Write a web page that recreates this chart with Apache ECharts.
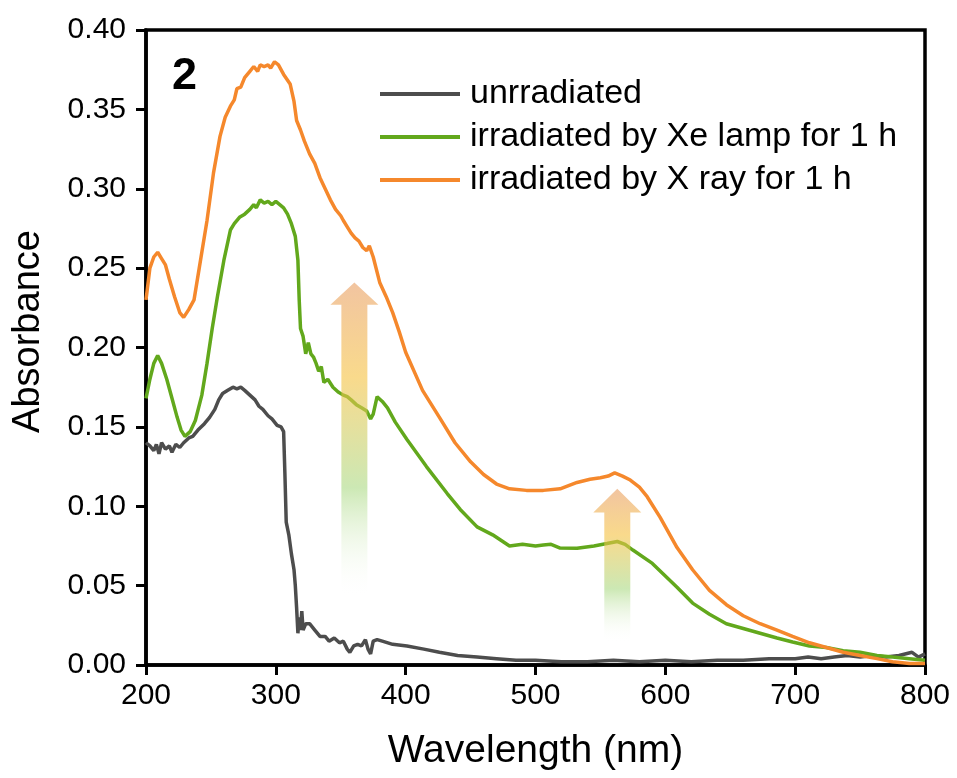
<!DOCTYPE html>
<html>
<head>
<meta charset="utf-8">
<script src="https://cdn.jsdelivr.net/npm/echarts@6/dist/echarts.min.js"></script>
<style>
html, body { margin: 0; padding: 0; background: #fff; }
#main { width: 957px; height: 778px; }
</style>
</head>
<body>
<div id="main"></div>
<script>
// spectra (wavelength in nm, absorbance)
var grayNm = [200, 203, 206, 208, 210, 212, 215, 218, 220, 223, 226, 229, 233, 236, 240, 245, 249, 253, 256, 259, 263, 267, 270, 273, 276, 280, 284, 287, 290, 294, 297, 301, 304, 306, 307, 308, 310, 312, 314, 315, 316, 317, 318, 319, 320, 321, 323, 326, 330, 334, 338, 341, 345, 349, 352, 355, 357, 360, 363, 366, 369, 371, 373, 375, 378, 382, 390, 401, 414, 426, 440, 455, 470, 485, 500, 520, 540, 560, 580, 600, 620, 640, 660, 680, 700, 710, 720, 730, 740, 750, 760, 770, 780, 790, 795, 800];
var grayAbs = [0.140, 0.138, 0.135, 0.139, 0.133, 0.140, 0.136, 0.138, 0.134, 0.139, 0.137, 0.140, 0.143, 0.144, 0.148, 0.152, 0.156, 0.161, 0.167, 0.171, 0.173, 0.175, 0.174, 0.175, 0.173, 0.170, 0.167, 0.163, 0.161, 0.157, 0.155, 0.151, 0.150, 0.147, 0.120, 0.090, 0.082, 0.070, 0.060, 0.050, 0.036, 0.020, 0.030, 0.022, 0.034, 0.022, 0.026, 0.026, 0.022, 0.018, 0.018, 0.015, 0.017, 0.014, 0.015, 0.010, 0.008, 0.012, 0.013, 0.012, 0.016, 0.010, 0.007, 0.015, 0.016, 0.015, 0.013, 0.012, 0.010, 0.008, 0.006, 0.005, 0.004, 0.003, 0.003, 0.002, 0.002, 0.003, 0.002, 0.003, 0.002, 0.003, 0.003, 0.004, 0.004, 0.005, 0.004, 0.005, 0.006, 0.005, 0.006, 0.005, 0.006, 0.008, 0.005, 0.007];

var xeNm = [200, 203, 206, 209, 212, 216, 220, 224, 227, 230, 234, 238, 243, 247, 251, 255, 260, 265, 268, 272, 276, 280, 283, 285, 288, 291, 294, 297, 300, 303, 306, 309, 312, 315, 317, 318, 319, 321, 323, 325, 327, 329, 331, 333, 335, 337, 340, 344, 348, 352, 355, 358, 362, 366, 370, 373, 375, 378, 382, 386, 392, 401, 416, 432, 442, 455, 467, 480, 490, 500, 506, 512, 519, 532, 545, 555, 563, 569, 575, 590, 609, 621, 634, 647, 660, 673, 686, 698, 711, 724, 737, 750, 763, 775, 788, 800];
var xeAbs = [0.168, 0.180, 0.190, 0.195, 0.190, 0.180, 0.168, 0.156, 0.148, 0.144, 0.147, 0.154, 0.170, 0.190, 0.212, 0.232, 0.255, 0.274, 0.278, 0.282, 0.284, 0.287, 0.290, 0.288, 0.293, 0.291, 0.292, 0.290, 0.292, 0.290, 0.288, 0.284, 0.278, 0.270, 0.255, 0.230, 0.212, 0.207, 0.196, 0.203, 0.196, 0.194, 0.190, 0.185, 0.188, 0.178, 0.180, 0.175, 0.172, 0.170, 0.169, 0.167, 0.164, 0.162, 0.160, 0.155, 0.158, 0.169, 0.166, 0.162, 0.153, 0.142, 0.125, 0.108, 0.098, 0.087, 0.082, 0.075, 0.076, 0.075, 0.0756, 0.076, 0.0737, 0.0735, 0.075, 0.0765, 0.0778, 0.076, 0.0724, 0.064, 0.049, 0.039, 0.032, 0.026, 0.023, 0.020, 0.017, 0.0145, 0.012, 0.011, 0.009, 0.008, 0.006, 0.005, 0.004, 0.003];

var xrayNm = [200, 203, 206, 209, 212, 215, 218, 222, 226, 229, 233, 237, 241, 247, 252, 257, 261, 265, 268, 270, 273, 276, 280, 283, 286, 288, 291, 294, 296, 299, 302, 306, 311, 314, 316, 319, 322, 326, 330, 334, 338, 342, 346, 350, 352, 355, 358, 361, 364, 367, 370, 372, 375, 380, 385, 390, 395, 400, 413, 426, 438, 450, 460, 470, 480, 493, 506, 519, 532, 542, 550, 556, 561, 567, 573, 580, 586, 596, 609, 621, 634, 647, 660, 673, 686, 698, 711, 724, 737, 750, 763, 775, 788, 800];
var xrayAbs = [0.230, 0.250, 0.257, 0.260, 0.256, 0.252, 0.243, 0.232, 0.222, 0.219, 0.224, 0.230, 0.250, 0.280, 0.310, 0.333, 0.345, 0.352, 0.356, 0.363, 0.364, 0.370, 0.374, 0.377, 0.374, 0.378, 0.377, 0.378, 0.376, 0.380, 0.378, 0.372, 0.366, 0.355, 0.343, 0.337, 0.330, 0.322, 0.316, 0.307, 0.300, 0.293, 0.287, 0.283, 0.280, 0.276, 0.272, 0.269, 0.267, 0.263, 0.261, 0.264, 0.257, 0.241, 0.232, 0.222, 0.210, 0.197, 0.173, 0.156, 0.140, 0.128, 0.120, 0.114, 0.111, 0.110, 0.110, 0.111, 0.115, 0.117, 0.118, 0.119, 0.121, 0.119, 0.1165, 0.112, 0.106, 0.093, 0.074, 0.060, 0.047, 0.038, 0.031, 0.026, 0.022, 0.018, 0.014, 0.011, 0.008, 0.006, 0.004, 0.002, 0.001, 0.001];

var seriesNames = ['unrradiated', 'irradiated by Xe lamp for 1 h', 'irradiated by X ray for 1 h'];
var seriesColors = ['#4d4d4d', '#62a81c', '#f5882c'];

// growth arrows: [wavelength, tail absorbance, head base, tip]
var arrows = [
    [360.5, 0.042, 0.227, 0.241],
    [563, 0.014, 0.096, 0.111]
];

function pairs(xs, ys) {
    var out = [];
    for (var i = 0; i < xs.length; i++) {
        out.push([xs[i], ys[i]]);
    }
    return out;
}

var chart = echarts.init(document.getElementById('main'));
var font = 'Liberation Sans, Arial, sans-serif';

var option = {
    animation: false,
    backgroundColor: '#fff',
    grid: {
        left: 146, top: 30, width: 779, height: 635,
        show: true, borderColor: '#000', borderWidth: 3.5
    },
    legend: {
        orient: 'vertical',
        left: 375, top: 72,
        itemWidth: 80, itemHeight: 4, itemGap: 9,
        icon: 'rect',
        data: seriesNames,
        textStyle: {
            fontFamily: font, fontSize: 34, lineHeight: 34, color: '#000',
            padding: [0, 0, 0, 5]
        }
    },
    xAxis: {
        type: 'value', min: 200, max: 800, interval: 100,
        name: 'Wavelength (nm)', nameLocation: 'middle', nameGap: 67,
        nameTextStyle: { fontFamily: font, fontSize: 39, color: '#000' },
        axisLine: { show: true, lineStyle: { color: '#000', width: 3.5 } },
        axisTick: { show: true, inside: false, length: 10, lineStyle: { color: '#000', width: 3 } },
        axisLabel: { fontFamily: font, fontSize: 30, color: '#000', margin: 16 },
        splitLine: { show: false }
    },
    yAxis: {
        type: 'value', min: 0, max: 0.4, interval: 0.05,
        name: 'Absorbance', nameLocation: 'middle', nameGap: 98,
        nameTextStyle: { fontFamily: font, fontSize: 38, color: '#000', padding: [0, 0, 0, 32] },
        axisLine: { show: true, lineStyle: { color: '#000', width: 3.5 } },
        axisTick: { show: true, inside: false, length: 10, lineStyle: { color: '#000', width: 3 } },
        axisLabel: {
            fontFamily: font, fontSize: 30, color: '#000', margin: 20,
            formatter: function (v) { return v.toFixed(2); }
        },
        splitLine: { show: false }
    },
    series: [
        { name: seriesNames[0], type: 'line', data: pairs(grayNm, grayAbs), color: seriesColors[0] },
        { name: seriesNames[1], type: 'line', data: pairs(xeNm, xeAbs), color: seriesColors[1] },
        { name: seriesNames[2], type: 'line', data: pairs(xrayNm, xrayAbs), color: seriesColors[2] }
    ].map(function (s) {
        s.symbol = 'none';
        s.showSymbol = false;
        s.lineStyle = { width: 3.5, color: s.color };
        s.z = 3;
        return s;
    })
};
chart.setOption(option);

// arrows and panel label placed through the axis scales
var graphics = [];
arrows.forEach(function (a) {
    var tip = chart.convertToPixel({ gridIndex: 0 }, [a[0], a[3]]);
    var base = chart.convertToPixel({ gridIndex: 0 }, [a[0], a[2]]);
    var tail = chart.convertToPixel({ gridIndex: 0 }, [a[0], a[1]]);
    var cx = tip[0];
    var hw = 24, sw = 13;
    graphics.push({
        type: 'polygon',
        z: 10,
        shape: {
            points: [
                [cx, tip[1]], [cx + hw, base[1]], [cx + sw, base[1]], [cx + sw, tail[1]],
                [cx - sw, tail[1]], [cx - sw, base[1]], [cx - hw, base[1]]
            ]
        },
        style: {
            opacity: 0.6,
            fill: new echarts.graphic.LinearGradient(0, 0, 0, 1, [
                { offset: 0, color: '#e99d61' },
                { offset: 0.3, color: '#f5c13f' },
                { offset: 0.65, color: '#aad982' },
                { offset: 1, color: 'rgba(255,255,255,0)' }
            ])
        }
    });
});
graphics.push({
    type: 'text', left: 172, top: 54, z: 10,
    style: { text: '2', fontFamily: font, fontSize: 45, fontWeight: 'bold', fill: '#000' }
});
chart.setOption({ graphic: graphics });
</script>
</body>
</html>
